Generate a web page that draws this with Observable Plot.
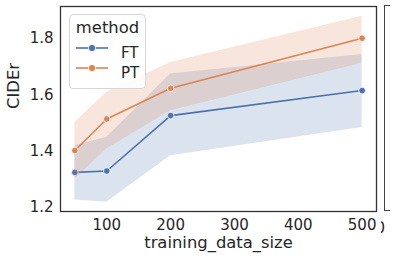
<!DOCTYPE html>
<html>
<head>
<meta charset="utf-8">
<script src="https://cdn.jsdelivr.net/npm/d3@7"></script>
<script src="https://cdn.jsdelivr.net/npm/@observablehq/plot@0.6"></script>
<style>
  html, body { margin: 0; padding: 0; background: #fff; overflow: hidden; }
  #wrap { position: relative; width: 393px; height: 263px; font-family: "DejaVu Sans", sans-serif; color: #262626; }
  #legend { position: absolute; left: 69px; top: 14px; width: 77px; height: 75px; box-sizing: border-box;
    border: 1px solid #d6d6d6; border-radius: 4px; background: rgba(255,255,255,0.85); }
  #legend .title { position: absolute; left: 0; width: 100%; top: 3px; text-align: center; font-size: 16.4px; }
  #legend .row { position: absolute; left: 6px; font-size: 15px; }
  #legend svg { position: absolute; left: 0; top: 0; }
  #legend .lab { position: absolute; left: 45px; top: -9px; }
  #side { position: absolute; left: 384px; top: 5px; width: 6px; height: 206px; border-left: 1.3px solid #444; border-top: 1.3px solid #444; border-bottom: 1.3px solid #444; box-sizing: border-box; }
  #clip0 { position: absolute; left: 381px; top: 219px; width: 4px; height: 20px; overflow: hidden; font-size: 15px; }
  #clip0 span { position: absolute; right: 0; top: 0; }
</style>
</head>
<body>
<div id="wrap"></div>
<script>
const sizes = [50, 100, 200, 500];
const methods = ["FT", "PT"];
const ftMean = [1.324, 1.329, 1.526, 1.615];
const ftLow  = [1.226, 1.218, 1.383, 1.484];
const ftHigh = [1.419, 1.449, 1.674, 1.743];
const ptMean = [1.402, 1.514, 1.623, 1.801];
const ptLow  = [1.300, 1.407, 1.543, 1.712];
const ptHigh = [1.502, 1.609, 1.715, 1.879];
const xTicks = [100, 200, 300, 400, 500];
const yTicks = [1.2, 1.4, 1.6, 1.8];
const colors = ["#4c72b0", "#dd8452"];

const series = {
  FT: sizes.map((s, i) => ({method: "FT", size: s, mean: ftMean[i], lo: ftLow[i], hi: ftHigh[i]})),
  PT: sizes.map((s, i) => ({method: "PT", size: s, mean: ptMean[i], lo: ptLow[i], hi: ptHigh[i]}))
};

const marks = [];
for (const m of methods) {
  const c = colors[methods.indexOf(m)];
  marks.push(Plot.lineY(series[m], {x: "size", y: "mean", stroke: c, strokeWidth: 1.6}));
  marks.push(Plot.areaY(series[m], {x: "size", y1: "lo", y2: "hi", fill: c, fillOpacity: 0.2}));
  marks.push(Plot.dot(series[m], {x: "size", y: "mean", fill: c, r: 3.3, stroke: "white", strokeWidth: 0.8}));
}

const chart = Plot.plot({
  width: 393,
  height: 263,
  marginLeft: 60,
  marginRight: 17,
  marginTop: 6,
  marginBottom: 52,
  style: {fontFamily: "DejaVu Sans, sans-serif", fontSize: "15px", color: "#262626", background: "white"},
  x: {domain: [27.5, 522.5], ticks: xTicks, tickSize: 0, tickPadding: 8, label: null},
  y: {domain: [1.185, 1.914], ticks: yTicks, tickFormat: d3.format(".1f"), tickSize: 0, tickPadding: 7, label: null},
  marks: [
    ...marks,
    Plot.frame({stroke: "#333", strokeWidth: 1.3}),
    Plot.text(["training_data_size"], {frameAnchor: "bottom", dy: 36.5, fontSize: 16.4, fill: "#262626"}),
    Plot.text(["CIDEr"], {frameAnchor: "left", dx: -47, rotate: -90, fontSize: 16.4, fill: "#262626"})
  ]
});
const wrap = document.getElementById("wrap");
wrap.appendChild(chart);

const legend = document.createElement("div");
legend.id = "legend";
let html = `<div class="title">method</div>`;
methods.forEach((m, i) => {
  const top = 38 + i * 20;
  html += `<div class="row" style="top:${top}px"><svg width="40" height="10" style="top:-5px;left:0" overflow="visible">
    <line x1="0" x2="32" y1="0" y2="0" stroke="${colors[i]}" stroke-width="1.6"/>
    <circle cx="16" cy="0" r="3.6" fill="${colors[i]}" stroke="white" stroke-width="0.8"/></svg>
    <span class="lab">${m}</span></div>`;
});
legend.innerHTML = html;
wrap.appendChild(legend);

const side = document.createElement("div");
side.id = "side";
wrap.appendChild(side);
const c0 = document.createElement("div");
c0.id = "clip0";
c0.innerHTML = "<span>0</span>";
wrap.appendChild(c0);
</script>
</body>
</html>
